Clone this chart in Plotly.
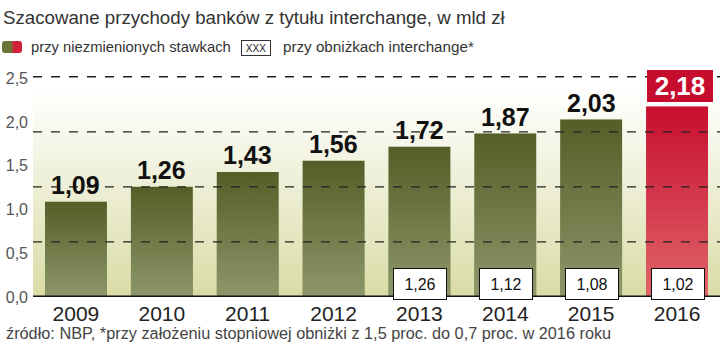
import base64
import plotly.graph_objects as go

# ---------------- data ----------------
years = ["2009", "2010", "2011", "2012", "2013", "2014", "2015", "2016"]
revenue_unchanged = [1.09, 1.26, 1.43, 1.56, 1.72, 1.87, 2.03, 2.18]
revenue_reduced_years = ["2013", "2014", "2015", "2016"]
revenue_reduced = [1.26, 1.12, 1.08, 1.02]
y_ticks = [0.0, 0.5, 1.0, 1.5, 2.0, 2.5]
grid_levels = [0.63, 1.26, 1.89, 2.52]   # decorative dashed lines as drawn in the original

title_text = "Szacowane przychody banków z tytułu interchange, w mld zł"
legend_a = "przy niezmienionych stawkach"
legend_b = "przy obniżkach interchange*"
source_text = "źródło: NBP, *przy założeniu stopniowej obniżki z 1,5 proc. do 0,7 proc. w 2016 roku"

# ---------------- style ----------------
W, H = 720, 348
L, R, T, B = 33, 720, 61, 297
SANS = "Liberation Sans, Arial, sans-serif"
GREEN_TOP, GREEN_BOT = "#545e27", "#8e976b"
RED_TOP, RED_BOT = "#c70d2e", "#e0666a"
GREEN_MID, RED_MID = "#6d773f", "#d43a48"
BAR_W = 0.72


def px(x):
    return (x - L) / (R - L)


def py(y):
    return (B - y) / (B - T)


def svg_uri(svg):
    return "data:image/svg+xml;base64," + base64.b64encode(svg.encode("utf-8")).decode()


def vgrad(stops):
    s = "".join(f'<stop offset="{o}" stop-color="{c}"/>' for o, c in stops)
    return svg_uri(
        '<svg xmlns="http://www.w3.org/2000/svg" width="10" height="100" viewBox="0 0 10 100" '
        'preserveAspectRatio="none"><defs><linearGradient id="g" x1="0" y1="0" x2="0" y2="1">'
        f'{s}</linearGradient></defs><rect width="10" height="100" fill="url(#g)"/></svg>'
    )


def hgrad_round(c1, c2):
    return svg_uri(
        '<svg xmlns="http://www.w3.org/2000/svg" width="20" height="12" viewBox="0 0 20 12" '
        'preserveAspectRatio="none"><defs><linearGradient id="g" x1="0" y1="0" x2="1" y2="0">'
        f'<stop offset="0" stop-color="{c1}"/><stop offset="0.45" stop-color="{c1}"/>'
        f'<stop offset="0.6" stop-color="{c2}"/><stop offset="1" stop-color="{c2}"/>'
        '</linearGradient></defs><rect width="20" height="12" rx="3" ry="3" fill="url(#g)"/></svg>'
    )


colors = [RED_MID if y == "2016" else GREEN_MID for y in years]
idx = {y: i for i, y in enumerate(years)}

fig = go.Figure()
fig.add_trace(go.Bar(
    x=years, y=revenue_unchanged, marker=dict(color=colors, line=dict(width=0)),
    width=BAR_W, hoverinfo="x+y", showlegend=False,
))

images = [
    dict(source=vgrad([(0, "#ffffff"), (0.12, "#ffffff"), (1, "#d9dca6")]),
         xref="paper", yref="paper", x=0, y=1, sizex=1, sizey=1,
         xanchor="left", yanchor="top", sizing="stretch", layer="below"),
    dict(source=hgrad_round("#6b7538", "#d3203a"),
         xref="paper", yref="paper", x=px(2), y=py(41), sizex=20 / (R - L), sizey=12 / (B - T),
         xanchor="left", yanchor="top", sizing="stretch", layer="above"),
]
for yr, v in zip(years, revenue_unchanged):
    top, bot = (RED_TOP, RED_BOT) if yr == "2016" else (GREEN_TOP, GREEN_BOT)
    images.append(dict(source=vgrad([(0, top), (1, bot)]), xref="x", yref="y",
                       x=idx[yr], y=v, sizex=BAR_W, sizey=v, xanchor="center", yanchor="top",
                       sizing="stretch", layer="above"))

shapes = []
for g in grid_levels:
    shapes.append(dict(type="line", xref="paper", yref="y", x0=0, x1=1, y0=g, y1=g,
                       line=dict(color="#222222", width=1.3, dash="dash"), layer="above"))
shapes.append(dict(type="line", xref="paper", yref="y", x0=0, x1=1, y0=0, y1=0,
                   line=dict(color="#111111", width=3), layer="above"))

ann = []
ann.append(dict(text=title_text, xref="paper", yref="paper", x=px(1), y=py(17),
                xanchor="left", yanchor="middle", showarrow=False,
                font=dict(family=SANS, size=18.7, color="#333333")))
ann.append(dict(text=legend_a, xref="paper", yref="paper", x=px(29), y=py(47),
                xanchor="left", yanchor="middle", showarrow=False,
                font=dict(family=SANS, size=14.8, color="#333333")))
ann.append(dict(text="XXX", xref="paper", yref="paper", x=px(256), y=py(48),
                xanchor="center", yanchor="middle", showarrow=False, width=26, height=12,
                borderpad=1, borderwidth=1, bordercolor="#333333", bgcolor="#ffffff",
                font=dict(family=SANS, size=10, color="#222222")))
ann.append(dict(text=legend_b, xref="paper", yref="paper", x=px(281), y=py(47),
                xanchor="left", yanchor="middle", showarrow=False,
                font=dict(family=SANS, size=15.2, color="#333333")))
ann.append(dict(text=source_text, xref="paper", yref="paper", x=px(4), y=py(333),
                xanchor="left", yanchor="middle", showarrow=False,
                font=dict(family=SANS, size=16.3, color="#444444")))

for yr, v in zip(years, revenue_unchanged):
    label = f"{v:.2f}".replace(".", ",")
    if yr == "2016":
        ann.append(dict(text=f"<b>{label}</b>", x=idx[yr], y=v, xref="x", yref="y", xshift=3,
                        xanchor="center", yanchor="bottom", yshift=4, showarrow=False,
                        width=60, height=26, borderpad=2, bgcolor=RED_TOP, bordercolor=RED_TOP,
                        borderwidth=1, font=dict(family=SANS, size=26, color="#ffffff")))
    else:
        ann.append(dict(text=f"<b>{label}</b>", x=idx[yr], y=v, xref="x", yref="y",
                        xanchor="center", yanchor="bottom", yshift=1, showarrow=False,
                        font=dict(family=SANS, size=25, color="#111111")))

for yr, v in zip(revenue_reduced_years, revenue_reduced):
    label = f"{v:.2f}".replace(".", ",")
    ann.append(dict(text=label, x=idx[yr], y=0, xref="x", yref="y", xshift=1,
                    xanchor="center", yanchor="middle", yshift=13, showarrow=False,
                    width=44, height=22, borderpad=4, bgcolor="#ffffff",
                    bordercolor="#111111", borderwidth=1,
                    font=dict(family=SANS, size=16, color="#111111")))

fig.update_layout(
    width=W, height=H,
    margin=dict(l=L, r=W - R, t=T, b=H - B, pad=0),
    paper_bgcolor="#ffffff", plot_bgcolor="rgba(0,0,0,0)",
    separators=", ",
    bargap=1 - BAR_W,
    xaxis=dict(type="category", range=[-0.5, len(years) - 0.5], showgrid=False,
               zeroline=False, showline=False, ticks="",
               tickfont=dict(family=SANS, size=21, color="#222222"),
               ticklabelstandoff=2, fixedrange=True),
    yaxis=dict(range=[0, 2.7], tickvals=y_ticks, tickformat=".1f", showgrid=False,
               zeroline=False, showline=False, ticks="",
               tickfont=dict(family=SANS, size=16, color="#555555"),
               ticklabelstandoff=4, fixedrange=True),
    images=images, shapes=shapes, annotations=ann,
    showlegend=False,
)

fig.write_html("out.html")
